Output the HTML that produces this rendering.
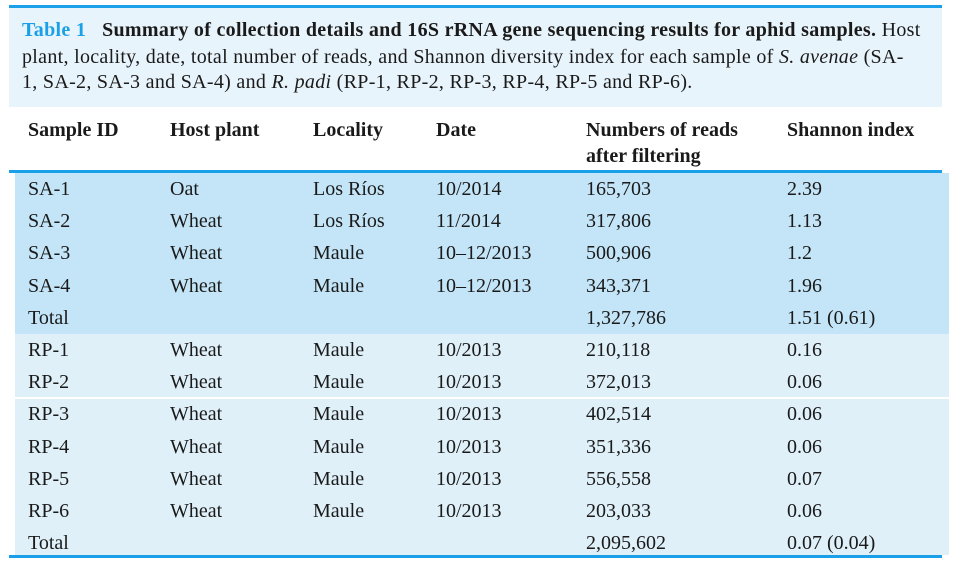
<!DOCTYPE html>
<html><head><meta charset="utf-8"><style>
body{margin:0;width:956px;height:564px;background:#fff;position:relative;overflow:hidden;font-family:"Liberation Serif",serif;color:#1a1a1a}
.a{position:absolute}
.cap{left:9px;top:8px;width:933px;height:99px;background:#e8f4fb}
.cl{position:absolute;left:22px;font-size:20px;white-space:nowrap;letter-spacing:0.3px}
.line{background:#1aa0e8;height:3px}
.h{font-weight:bold;font-size:20px;line-height:26px}
</style></head><body>
<div class="a line" style="left:9px;top:5px;width:933px"></div>
<div class="a cap"></div>
<div class="cl" style="top:19px"><b style="color:#1aa0e8">Table 1</b>&nbsp;&nbsp; <b>Summary of collection details and 16S rRNA gene sequencing results for aphid samples.</b> Host</div>
<div class="cl" style="top:46px">plant, locality, date, total number of reads, and Shannon diversity index for each sample of <i>S. avenae</i> (SA-</div>
<div class="cl" style="top:71px">1, SA-2, SA-3 and SA-4) and <i>R. padi</i> (RP-1, RP-2, RP-3, RP-4, RP-5 and RP-6).</div>
<div class="a h" style="left:28px;top:117px">Sample ID</div>
<div class="a h" style="left:170px;top:117px">Host plant</div>
<div class="a h" style="left:313px;top:117px">Locality</div>
<div class="a h" style="left:436px;top:117px">Date</div>
<div class="a h" style="left:586px;top:117px">Numbers of reads<br>after filtering</div>
<div class="a h" style="left:787px;top:117px">Shannon index</div>
<div class="a line" style="left:9px;top:170px;width:933px"></div>
<div class="a" style="left:15px;top:173px;width:934px;height:161px;background:#c4e5f7"></div>
<div class="a" style="left:15px;top:334px;width:934px;height:221px;background:#dff0f9"></div>
<div class="a" style="left:15px;top:397px;width:934px;height:2px;background:#fff"></div>
<div class="a line" style="left:9px;top:555px;width:933px"></div>
<div id="rows"></div>
<script>
var d=[["SA-1","Oat","Los Ríos","10/2014","165,703","2.39"],["SA-2","Wheat","Los Ríos","11/2014","317,806","1.13"],["SA-3","Wheat","Maule","10–12/2013","500,906","1.2"],["SA-4","Wheat","Maule","10–12/2013","343,371","1.96"],["Total","","","","1,327,786","1.51 (0.61)"],["RP-1","Wheat","Maule","10/2013","210,118","0.16"],["RP-2","Wheat","Maule","10/2013","372,013","0.06"],["RP-3","Wheat","Maule","10/2013","402,514","0.06"],["RP-4","Wheat","Maule","10/2013","351,336","0.06"],["RP-5","Wheat","Maule","10/2013","556,558","0.07"],["RP-6","Wheat","Maule","10/2013","203,033","0.06"],["Total","","","","2,095,602","0.07 (0.04)"]];
var xs=[28,170,313,436,586,787],h="";
d.forEach(function(r,i){var y=178+i*32.2;r.forEach(function(t,j){h+='<div class="a" style="font-size:20px;left:'+xs[j]+'px;top:'+y+'px;white-space:nowrap">'+t+'</div>';});});
document.getElementById("rows").innerHTML=h;
</script>
</body></html>
